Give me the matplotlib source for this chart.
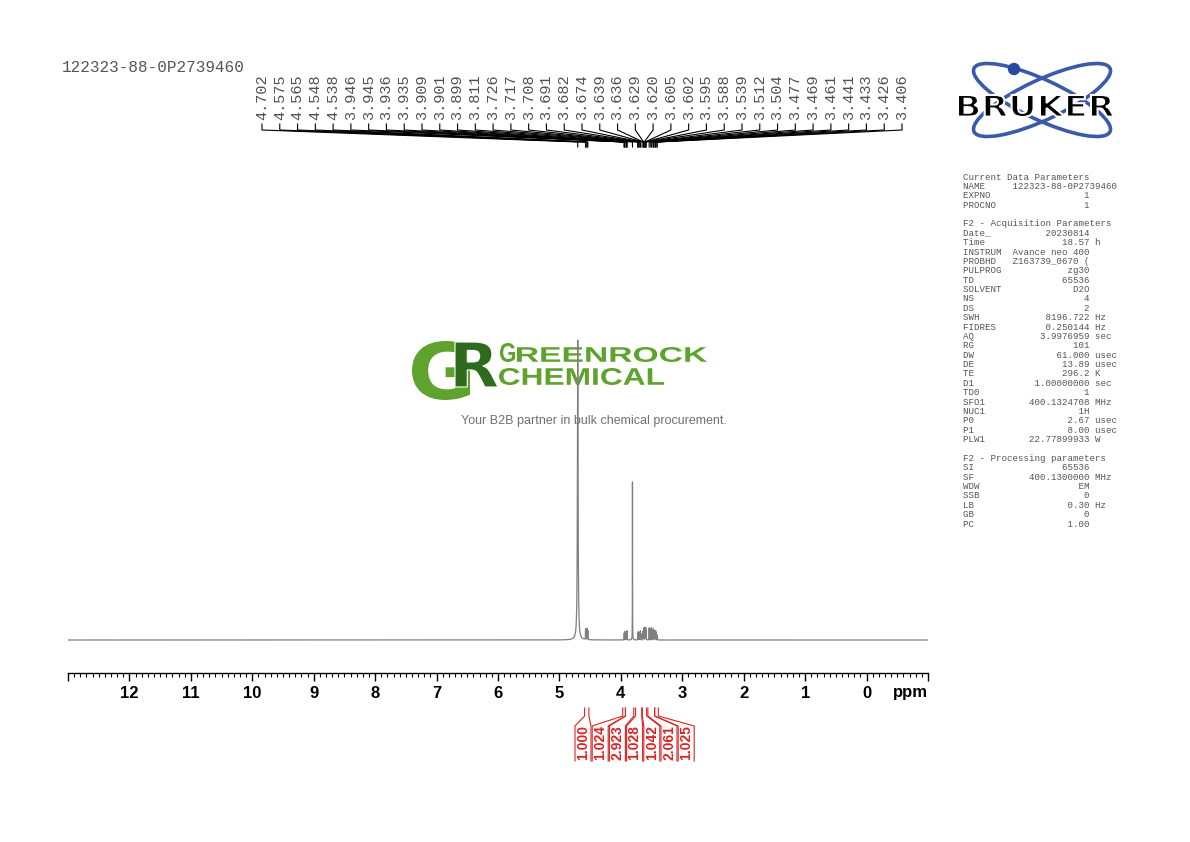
#!/usr/bin/env python

'''Redraw a 1H NMR spectrum page (Bruker style printout).'''

import numpy as np
import matplotlib
matplotlib.use('Agg')
import matplotlib.pyplot as plt
from matplotlib.patches import Ellipse, Circle, PathPatch
from matplotlib.textpath import TextPath
from matplotlib.font_manager import FontProperties
from matplotlib.transforms import Affine2D

W, H = 1190, 842

########################################################################
# Data

sample_name = '122323-88-0P2739460'

peak_ppm = [4.702, 4.575, 4.565, 4.548, 4.538, 3.946, 3.945, 3.936, 3.935,
            3.909, 3.901, 3.899, 3.811, 3.726, 3.717, 3.708, 3.691, 3.682,
            3.674, 3.639, 3.636, 3.629, 3.620, 3.605, 3.602, 3.595, 3.588,
            3.539, 3.512, 3.504, 3.477, 3.469, 3.461, 3.441, 3.433, 3.426,
            3.406]
peak_height = [300, 9, 11, 11, 9, 4, 4, 5, 5,
               6, 7, 7, 158, 6, 8, 6, 7, 9,
               6, 7, 7, 11, 12, 10, 10, 12, 9,
               12, 11, 12, 10, 11, 9, 8, 9, 7,
               5]
peak_hwhm = [0.006] + [0.0012] * 36

integral_values = ['1.000', '1.024', '2.923', '1.028', '1.042', '2.061', '1.025']
integral_ranges = [(4.59, 4.52), (3.97, 3.925), (3.925, 3.79), (3.76, 3.66),
                   (3.65, 3.58), (3.56, 3.45), (3.45, 3.39)]

ppm_ticks = list(range(12, -1, -1))

param_lines = [
    ('title', 'Current Data Parameters'),
    ('NAME', sample_name, None),
    ('EXPNO', '1', ''),
    ('PROCNO', '1', ''),
    None,
    ('title', 'F2 - Acquisition Parameters'),
    ('Date_', '20230814', ''),
    ('Time', '18.57', 'h'),
    ('INSTRUM', 'Avance neo 400', ''),
    ('PROBHD', 'Z163739_0670 (', ''),
    ('PULPROG', 'zg30', ''),
    ('TD', '65536', ''),
    ('SOLVENT', 'D2O', ''),
    ('NS', '4', ''),
    ('DS', '2', ''),
    ('SWH', '8196.722', 'Hz'),
    ('FIDRES', '0.250144', 'Hz'),
    ('AQ', '3.9976959', 'sec'),
    ('RG', '101', ''),
    ('DW', '61.000', 'usec'),
    ('DE', '13.89', 'usec'),
    ('TE', '296.2', 'K'),
    ('D1', '1.00000000', 'sec'),
    ('TD0', '1', ''),
    ('SFO1', '400.1324708', 'MHz'),
    ('NUC1', '1H', ''),
    ('P0', '2.67', 'usec'),
    ('P1', '8.00', 'usec'),
    ('PLW1', '22.77899933', 'W'),
    None,
    ('title', 'F2 - Processing parameters'),
    ('SI', '65536', ''),
    ('SF', '400.1300000', 'MHz'),
    ('WDW', 'EM', ''),
    ('SSB', '0', ''),
    ('LB', '0.30', 'Hz'),
    ('GB', '0', ''),
    ('PC', '1.00', ''),
]

########################################################################
# Build the spectrum from the peak list (Lorentzian lines)

ppm = np.linspace(13.0, -1.0, 70001)
spec = np.zeros_like(ppm)
for p, h, g in zip(peak_ppm, peak_height, peak_hwhm):
    spec += h * g**2 / (g**2 + (ppm - p)**2)

########################################################################
# Figure

fig = plt.figure(figsize=(W / 100, H / 100), dpi=100)
fig.patch.set_facecolor('white')

# page axes in pixel coordinates, for everything around the spectrum
page = fig.add_axes([0, 0, 1, 1], zorder=0)
page.set_xlim(0, W)
page.set_ylim(H, 0)
page.axis('off')

ax_left, ax_right, ax_bottom, ax_top = 68, 928, 672.5, 160
ax = fig.add_axes([ax_left / W, 1 - ax_bottom / H,
                   (ax_right - ax_left) / W, (ax_bottom - ax_top) / H], zorder=2)
ax.set_facecolor('none')
ax.plot(ppm, spec, color='#7f7f7f', lw=0.9)
ax.set_xlim(13.0, -1.0)
ax.set_ylim(-32.5, ax_bottom - ax_top - 32.5)
for s in ['top', 'left', 'right']:
    ax.spines[s].set_visible(False)
ax.spines['bottom'].set_linewidth(1.0)
ax.set_yticks([])
ax.set_xticks([13] + ppm_ticks + [-1])
ax.set_xticklabels([''] + [str(t) for t in ppm_ticks] + [''])
ax.set_xticks(np.arange(-1.0, 13.01, 0.1), minor=True)
ax.tick_params(axis='x', which='major', direction='out', length=6, width=1,
               pad=4)
ax.tick_params(axis='x', which='minor', direction='out', length=3, width=0.8)
for lab in ax.get_xticklabels():
    lab.set_fontfamily('Liberation Sans')
    lab.set_fontweight('bold')
    lab.set_fontsize(12)
page.text(910, 693, 'ppm', fontfamily='Liberation Sans', fontweight='bold',
          fontsize=12, ha='center', va='center')


def ppm_to_px(v):
    '''x pixel on the page for a chemical shift.'''
    return page.transData.inverted().transform(ax.transData.transform((v, 0)))[0]


########################################################################
# Peak labels with leader lines

mono = 'Liberation Mono'
page.text(62, 68, sample_name, fontfamily=mono, fontsize=11.5, color='#555555',
          ha='left', va='center')

n = len(peak_ppm)
lab_x0, lab_step = 262, (902 - 262) / (n - 1)
for i, p in enumerate(peak_ppm):
    xl = lab_x0 + i * lab_step
    xp = ppm_to_px(p)
    page.text(xl, 120, '%.3f' % p, rotation=90, fontfamily=mono, fontsize=11,
              color='#505050', ha='center', va='bottom')
    page.plot([xl, xl, xp, xp], [124, 130, 142, 147], color='black', lw=0.8)

########################################################################
# Integrals

red = '#dd2222'
int_x0, int_step = 583, 17.2
for i, (val, (a, b)) in enumerate(zip(integral_values, integral_ranges)):
    cx = int_x0 + i * int_step
    x1, x2 = ppm_to_px(a), ppm_to_px(b)
    page.plot([x1, x1, cx - 8, cx - 8], [708, 716, 726, 761], color=red, lw=0.8)
    page.plot([x2, x2, cx + 8, cx + 8], [708, 716, 726, 761], color=red, lw=0.8)
    page.text(cx, 743, val, rotation=90, fontfamily='Liberation Sans',
              fontweight='bold', fontsize=10, color=red, ha='center', va='center')

########################################################################
# Parameter block

y0, dy = 177, 9.38
for k, line in enumerate(param_lines):
    if line is None:
        continue
    if line[0] == 'title':
        s = line[1]
    elif line[2] is None:
        s = '%-9s%s' % (line[0], line[1])
    else:
        s = '%-8s%15s' % (line[0], line[1])
        if line[2]:
            s += ' ' + line[2]
    page.text(963, y0 + k * dy, s, fontfamily=mono, fontsize=6.6,
              color='#555555', ha='left', va='center')

########################################################################
# Logos


def draw_word(s, x, y_bottom, width, height, color, prop, ec='none', lw=0, z=3):
    tp = TextPath((0, 0), s, size=100, prop=prop)
    bb = tp.get_extents()
    tr = (Affine2D().translate(-bb.x0, -bb.y0)
          .scale(width / bb.width, -height / bb.height)
          .translate(x, y_bottom))
    page.add_patch(PathPatch(tr.transform_path(tp), fc=color, ec=ec, lw=lw,
                             zorder=z))


bold = FontProperties(family='DejaVu Sans', weight='bold')
word_font = FontProperties(family='Liberation Sans', weight='bold')

# Bruker
blue = '#3a5aaa'
for ang in (25, -25):
    page.add_patch(Ellipse((1042, 100), 150, 40, angle=ang, fill=False,
                           ec=blue, lw=2.6, zorder=2))
page.add_patch(Circle((1014, 69), 5.5, color='#2a4a9e', zorder=2))
draw_word('BRUKER', 958, 117, 156, 22, 'black', bold, ec='white', lw=1.5)

# Greenrock watermark
light_green, dark_green = '#5fa22d', '#2f6b1c'
draw_word('G', 412, 400, 58, 59, light_green, bold)
draw_word('R', 455, 387, 43, 45, dark_green, bold, ec='white', lw=0.8, z=4)
draw_word('G', 500, 362, 15, 19, light_green, word_font)
draw_word('REENROCK', 517, 362, 190, 15, light_green, word_font)
draw_word('CHEMICAL', 499, 385, 165, 17, light_green, word_font)
page.text(594, 421, 'Your B2B partner in bulk chemical procurement.',
          fontfamily='Liberation Sans', fontsize=9, color='#707070',
          ha='center', va='center')

fig.savefig('out.png', dpi=100)
